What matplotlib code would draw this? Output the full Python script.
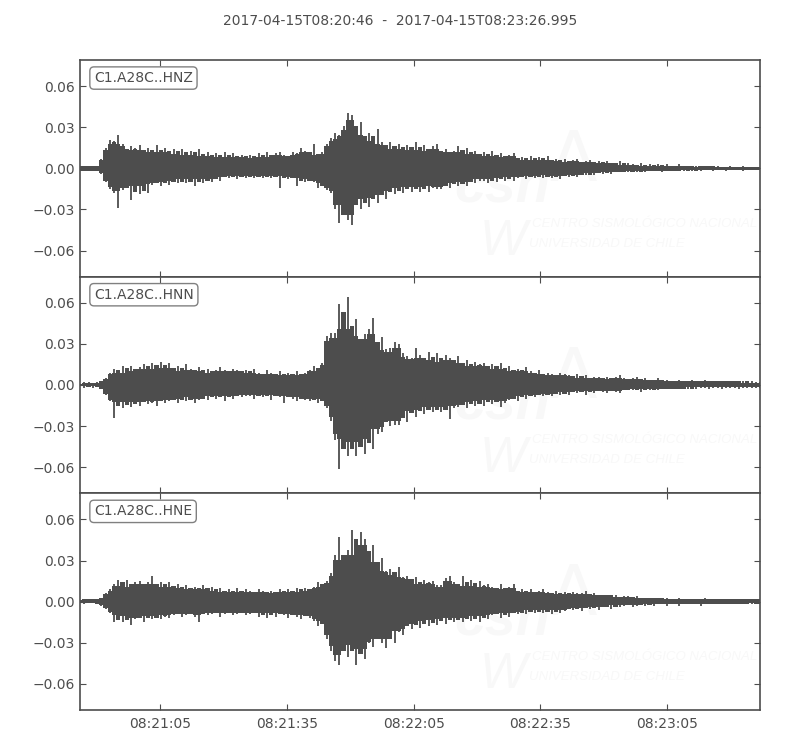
import matplotlib
matplotlib.use("Agg")
import matplotlib.pyplot as plt
import numpy as np

title = "2017-04-15T08:20:46  -  2017-04-15T08:23:26.995"
channels = ["C1.A28C..HNZ", "C1.A28C..HNN", "C1.A28C..HNE"]
x_tick_seconds = [19, 49, 79, 109, 139]
x_tick_labels = ["08:21:05", "08:21:35", "08:22:05", "08:22:35", "08:23:05"]
y_ticks = [-0.06, -0.03, 0.0, 0.03, 0.06]
y_tick_labels = ["\u22120.06", "\u22120.03", "0.00", "0.03", "0.06"]
scale = 0.001  # envelope values below are in thousandths, one per second

z_upper = [2,2,1,2,2, 7,15,21,20,24, 18,13,16,15,17, 12,15,13,17,13, 15,12,14,11,14,
           11,13,10,14,10, 12,9,11,9,12, 9,11,9,10,8, 10,8,11,9,12, 9,11,12,10,9,
           12,11,15,13,11, 18,10,12,18,22, 26,24,31,40,39, 27,34,22,26,20, 29,19,16,19,16,
           18,14,17,15,19, 14,17,13,16,18, 13,14,12,13,16, 11,15,12,13,10, 12,10,13,9,11,
           8,10,11,7,8, 7,9,6,8,7, 9,6,7,5,7, 5,6,7,4,5, 6,4,5,3,5, 4,3,5,3,4,
           3,2,4,2,3, 2,3,2,3,2, 2,3,2,2,1, 2,1,2,2,1, 2,1,1,2,1, 1,2,1,1,1,1]
z_lower = [2,1,2,2,1, 4,10,15,18,29, 16,14,23,14,19, 13,18,12,11,13, 10,12,9,11,8,
           11,9,13,8,11, 9,10,7,9,6, 7,6,8,6,7, 6,7,6,7,6, 7,6,14,6,8,
           7,13,8,10,9, 10,14,12,16,18, 30,40,28,38,41, 25,30,24,28,22, 25,18,22,16,19,
           15,18,14,17,15, 17,13,17,14,15, 15,12,14,11,13, 11,13,9,11,9, 9,11,8,10,7,
           9,7,9,7,6, 8,6,7,5,7, 5,7,6,8,5, 6,5,6,4,5, 4,5,3,4,3, 4,3,3,2,3,
           2,3,2,3,2, 2,2,3,2,2, 2,1,2,1,2, 1,2,1,1,2, 1,1,2,1,1, 1,2,1,1,1,1]
n_upper = [1,2,2,1,2, 3,5,9,12,10, 14,10,14,11,13, 15,12,16,13,17, 14,16,11,14,10,
           15,12,11,13,10, 12,9,11,13,11, 9,12,11,9,11, 10,12,9,8,11, 9,8,10,7,9,
           8,10,8,9,11, 14,11,16,36,38, 38,59,45,64,40, 48,33,37,41,49, 28,35,26,27,31,
           30,23,21,20,27, 22,20,24,19,23, 17,22,20,18,21, 15,18,13,17,15, 16,12,15,13,16,
           11,14,10,12,11, 13,10,9,11,8, 9,8,7,9,8, 7,6,8,6,7, 5,6,6,5,6, 5,6,7,5,4,
           5,6,4,5,4, 4,5,3,4,3, 3,4,3,3,4, 3,3,4,3,2, 3,3,2,3,3, 2,3,2,3,2,2]
n_lower = [1,2,1,2,1, 3,7,12,24,14, 17,13,16,14,15, 12,14,13,15,11, 13,12,11,13,9,
           12,10,13,11,9, 11,9,10,8,12, 9,10,7,9,8, 8,10,8,9,7, 11,8,9,13,8,
           10,12,8,11,12, 10,13,11,17,26, 40,61,44,52,46, 52,44,50,30,47, 36,34,27,30,29,
           29,21,27,20,23, 18,21,16,20,18, 20,15,25,17,16, 14,17,13,15,12, 15,11,14,12,16,
           13,11,9,12,8, 10,8,9,7,8, 7,8,6,7,6, 7,5,6,5,7, 5,6,4,5,6, 4,5,6,4,3,
           4,3,5,3,4, 3,4,3,3,2, 3,3,2,3,2, 3,2,2,3,2, 2,3,2,2,2, 3,2,2,2,2,2]
e_upper = [1,2,2,1,2, 3,6,9,13,16, 12,16,11,14,15, 10,14,19,12,14, 12,14,11,13,10,
           12,9,11,10,12, 9,11,8,10,8, 9,7,10,8,9, 8,7,9,8,7, 8,7,9,8,9,
           8,10,8,10,9, 11,14,12,15,21, 34,47,30,38,52, 37,51,46,32,41, 25,32,22,24,20,
           25,18,19,14,18, 13,16,14,15,12, 12,17,19,14,13, 19,13,16,12,15, 12,13,11,10,13,
           10,11,13,8,9, 8,9,7,8,9, 7,6,8,6,7, 5,7,6,6,8, 5,6,4,5,5, 4,5,3,4,4,
           3,4,3,3,2, 3,3,2,3,2, 2,3,2,2,1, 2,2,3,2,2, 1,2,2,1,2, 2,1,2,2,1,2]
e_lower = [1,2,1,1,2, 3,5,8,15,11, 15,12,17,13,11, 15,12,13,11,13, 11,12,10,9,11,
           10,9,11,15,9, 10,9,8,11,9, 8,10,9,8,10, 9,8,11,9,12, 9,11,8,10,12,
           9,11,13,10,12, 14,18,16,27,36, 43,46,32,40,35, 46,38,42,30,33, 26,30,34,24,30,
           22,24,18,20,16, 19,15,18,14,17, 13,16,12,15,13, 15,11,14,12,15, 11,13,10,9,12,
           9,11,8,9,7, 9,7,8,6,8, 7,9,6,8,7, 5,6,5,7,4, 5,4,6,4,3, 5,3,4,3,2,
           4,3,2,3,2, 3,2,2,3,2, 2,3,2,2,1, 2,3,2,1,2, 2,1,2,2,1, 2,2,1,2,1,2]
uppers = [z_upper, n_upper, e_upper]
lowers = [z_lower, n_lower, e_lower]

GREY = "#4d4d4d"
WM = "#f8f8f8"
plt.rcParams.update({"font.family": "DejaVu Sans", "font.size": 10, "text.color": GREY,
                     "axes.edgecolor": GREY, "xtick.color": GREY, "ytick.color": GREY,
                     "axes.labelcolor": GREY})


def core(a):
    """Solid body under the peaks: the middle of each sample and its two neighbours."""
    left = np.r_[a[0], a[:-1]]
    right = np.r_[a[1:], a[-1]]
    return np.median(np.vstack([left, a, right]), axis=0) * 0.9


fig, axes = plt.subplots(3, 1, figsize=(8, 7.5), dpi=100, sharex=True)
fig.subplots_adjust(left=0.1, right=0.95, top=1 - 60 / 750, bottom=1 - 710 / 750, hspace=0)
fig.suptitle(title, x=0.5, y=1 - 21 / 750, va="center", fontsize=10)

for ax, ch, up, lo in zip(axes, channels, uppers, lowers):
    up = np.array(up) * scale
    lo = np.array(lo) * scale
    t = np.linspace(0, 161, len(up))
    # faint watermark
    ax.text(0.551, 0.407, "csn", transform=ax.transAxes, fontsize=40, color=WM, family="Liberation Sans",
            weight="bold", style="italic", ha="left", va="center", zorder=0)
    ax.text(0.725, 0.53, "\u039b", transform=ax.transAxes, fontsize=50, color=WM, family="DejaVu Sans",
            ha="center", va="center", zorder=0)
    ax.text(0.622, 0.16, "W", transform=ax.transAxes, fontsize=36, color=WM, family="Liberation Sans",
            style="italic", ha="center", va="center", zorder=0)
    ax.text(0.664, 0.245, "CENTRO SISMOL\u00d3GICO NACIONAL", transform=ax.transAxes, fontsize=9.5, color=WM,
            family="Liberation Sans", style="italic", ha="left", va="center", zorder=0)
    ax.text(0.66, 0.153, "UNIVERSIDAD DE CHILE", transform=ax.transAxes, fontsize=9.5, color=WM,
            family="Liberation Sans", style="italic", ha="left", va="center", zorder=0)

    ax.fill_between(t, -core(lo), core(up), color=GREY, lw=0, step="mid", zorder=2)
    ax.vlines(t, -lo, up, color=GREY, lw=1.3, zorder=2)
    ax.set_xlim(0, 161)
    ax.set_ylim(-0.079, 0.079)
    ax.set_yticks(y_ticks)
    ax.set_yticklabels(y_tick_labels)
    ax.set_xticks(x_tick_seconds)
    ax.set_xticklabels(x_tick_labels)
    ax.tick_params(direction="in", top=True, right=True, length=4, width=0.8, pad=3.5, labelsize=10)
    for s in ax.spines.values():
        s.set_linewidth(1.2)
    ax.text(0.0206, 0.9167, ch, transform=ax.transAxes, ha="left", va="center", fontsize=10, zorder=5,
            bbox=dict(boxstyle="round,pad=0.3", fc="white", ec="#808080", lw=1.0))
for ax in axes[:-1]:
    ax.tick_params(labelbottom=False)
axes[-1].tick_params(axis="x", pad=5)

fig.savefig("out.png", dpi=100)
